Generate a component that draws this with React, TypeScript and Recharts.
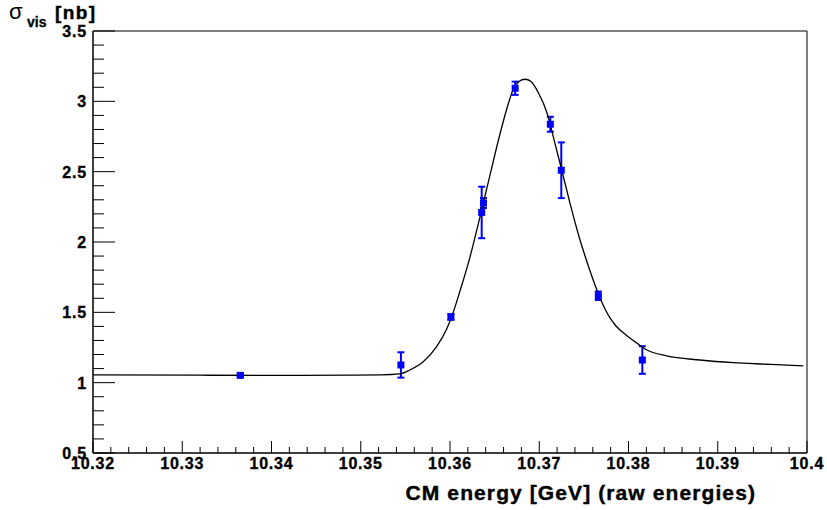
import React from "react";
import {
  ComposedChart,
  XAxis,
  YAxis,
  Line,
  Scatter,
  ErrorBar,
  ReferenceArea,
} from "recharts";

// measured points (CM energy in GeV, visible cross section in nb)
const pointX = [10.3365, 10.3545, 10.3601, 10.36355, 10.36375, 10.3673, 10.37124, 10.37247, 10.37662, 10.38155];
const pointY = [1.052, 1.126, 1.467, 2.21, 2.277, 3.093, 2.837, 2.51, 1.618, 1.161];
const pointErr = [0.012, 0.09, 0.02, 0.183, 0.035, 0.047, 0.053, 0.198, 0.03, 0.098];

// fitted curve
const curveX = [
  10.32, 10.332, 10.3432, 10.3488, 10.3522, 10.3544, 10.3555, 10.357, 10.3585, 10.35963,
  10.36022, 10.36112, 10.36224, 10.36336, 10.36448, 10.3656, 10.36639, 10.36706, 10.36773, 10.3684,
  10.36908, 10.36986, 10.37088, 10.37157, 10.37252, 10.37345, 10.37457, 10.37513, 10.37569, 10.37625,
  10.37681, 10.37737, 10.37793, 10.3786, 10.37972, 10.38084, 10.38196, 10.38428, 10.38801, 10.39174,
  10.39548, 10.39959,
];
const curveY = [
  1.055, 1.053, 1.052, 1.053, 1.055, 1.062, 1.09, 1.149, 1.256, 1.382,
  1.474, 1.652, 1.893, 2.178, 2.476, 2.768, 2.953, 3.081, 3.141, 3.157,
  3.141, 3.066, 2.915, 2.749, 2.512, 2.275, 2.014, 1.9, 1.794, 1.694,
  1.602, 1.524, 1.46, 1.403, 1.339, 1.286, 1.236, 1.19, 1.161, 1.142,
  1.131, 1.119,
];

const xMajor = [10.32, 10.33, 10.34, 10.35, 10.36, 10.37, 10.38, 10.39, 10.4];
const yMajor = [0.5, 1, 1.5, 2, 2.5, 3, 3.5];

const points = pointX.map((x, i) => ({ x, y: pointY[i], err: pointErr[i] }));
const curve = curveX.map((x, i) => ({ x, y: curveY[i] }));

const round = (v: number) => Math.round(v * 10000) / 10000;
const xTicks: number[] = [];
for (let i = 0; i < xMajor.length - 1; i++)
  for (let k = 0; k < 5; k++) xTicks.push(round(xMajor[i] + (k * (xMajor[i + 1] - xMajor[i])) / 5));
xTicks.push(xMajor[xMajor.length - 1]);
const yTicks: number[] = [];
for (let i = 0; i < yMajor.length - 1; i++)
  for (let k = 0; k < 5; k++) yTicks.push(round(yMajor[i] + (k * (yMajor[i + 1] - yMajor[i])) / 5));
yTicks.push(yMajor[yMajor.length - 1]);

const FONT = "'Liberation Sans', Arial, Helvetica, sans-serif";
const BLUE = "#0000ff";

const isMajor = (list: number[], v: number) => list.some((m) => Math.abs(m - v) < 1e-6);

const XTick = (props: any) => {
  const { x, y, payload } = props;
  const major = isMajor(xMajor, payload.value);
  return (
    <g>
      <line x1={x} y1={y} x2={x} y2={y - (major ? 12 : 6)} stroke="#000" strokeWidth={1} />
      {major && (
        <text x={x} y={y + 16} textAnchor="middle" fontFamily={FONT} fontWeight="bold" fontSize={16} letterSpacing={0.8} fill="#000" stroke="#000" strokeWidth={0.35}>
          {String(payload.value)}
        </text>
      )}
    </g>
  );
};

const YTick = (props: any) => {
  const { x, y, payload } = props;
  const major = isMajor(yMajor, payload.value);
  return (
    <g>
      <line x1={x} y1={y} x2={x + (major ? 22 : 11)} y2={y} stroke="#000" strokeWidth={1} />
      {major && (
        <text x={x - 6} y={y + 6} textAnchor="end" fontFamily={FONT} fontWeight="bold" fontSize={16} letterSpacing={0.8} fill="#000" stroke="#000" strokeWidth={0.35}>
          {String(payload.value)}
        </text>
      )}
    </g>
  );
};

const Square = (props: any) => {
  const { cx, cy } = props;
  return <rect x={cx - 3.5} y={cy - 3.5} width={7} height={7} fill={BLUE} />;
};

export default function App() {
  return (
    <div style={{ position: "absolute", left: 0, top: 0, width: 827, height: 510, background: "#fff" }}>
      <ComposedChart width={827} height={510} margin={{ top: 31, right: 20, bottom: 0, left: 0 }}>
        <XAxis
          type="number"
          dataKey="x"
          domain={[10.32, 10.4]}
          ticks={xTicks}
          interval={0}
          allowDataOverflow
          height={57}
          tickSize={0}
          tickMargin={0}
          tickLine={false}
          axisLine={{ stroke: "#000" }}
          tick={<XTick />}
        />
        <YAxis
          type="number"
          dataKey="y"
          domain={[0.5, 3.5]}
          ticks={yTicks}
          interval={0}
          allowDataOverflow
          width={93}
          tickSize={0}
          tickMargin={0}
          tickLine={false}
          axisLine={{ stroke: "#000" }}
          tick={<YTick />}
        />
        <ReferenceArea x1={10.32} x2={10.4} y1={0.5} y2={3.5} fill="none" stroke="#000" strokeWidth={1} ifOverflow="visible" />
        <Scatter data={points} dataKey="y" fill={BLUE} shape={<Square />} isAnimationActive={false}>
          <ErrorBar dataKey="err" direction="y" width={3.5} stroke={BLUE} strokeWidth={2} />
        </Scatter>
        <Line data={curve} dataKey="y" type="monotoneX" stroke="#000" strokeWidth={1.3} dot={false} isAnimationActive={false} />
      </ComposedChart>
      <svg width={827} height={510} style={{ position: "absolute", left: 0, top: 0, pointerEvents: "none" }}>
        <text x={756} y={500} textAnchor="end" fontFamily={FONT} fontWeight="bold" fontSize={21} letterSpacing={1.1} fill="#000" stroke="#000" strokeWidth={0.4}>
          CM energy [GeV] (raw energies)
        </text>
        <text x={9} y={19} fontFamily={FONT} fontSize={22} fill="#000">σ</text>
        <text x={27} y={26.5} fontFamily={FONT} fontWeight="bold" fontSize={14} fill="#000" stroke="#000" strokeWidth={0.3}>vis</text>
        <text x={55} y={18.5} fontFamily={FONT} fontWeight="bold" fontSize={19} letterSpacing={1.4} fill="#000" stroke="#000" strokeWidth={0.4}>[nb]</text>
      </svg>
    </div>
  );
}
